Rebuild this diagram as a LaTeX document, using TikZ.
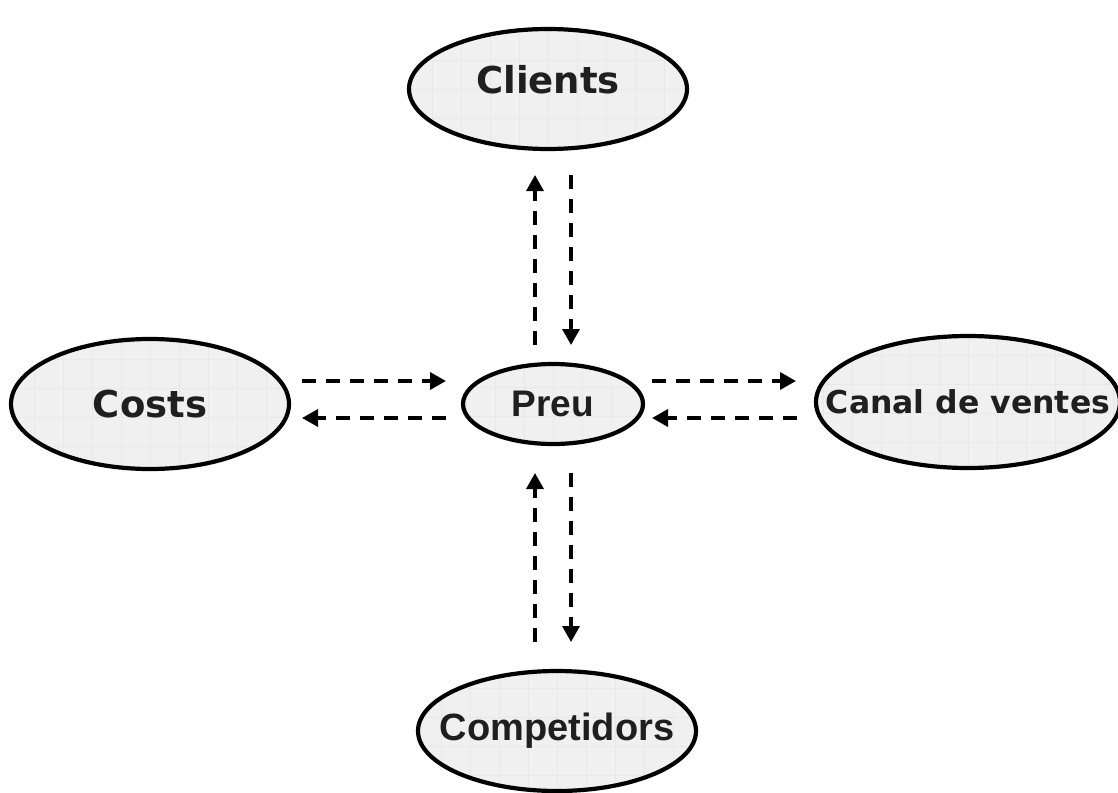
\documentclass[tikz,border=0pt]{standalone}
\usepackage{fontspec}
\newfontfamily\dvfont{DejaVu Sans}
\newfontfamily\arfont{Liberation Sans}
\usetikzlibrary{arrows.meta,shapes.geometric}
\begin{document}
\begin{tikzpicture}[x=1pt,y=-1pt,
  oval/.style={ellipse, draw=black, line width=4.2pt, fill=black!6, text=black!88,
    inner sep=0pt, font=\bfseries,
    path picture={\draw[black!9, line width=0.6pt]
      ([xshift=-400pt,yshift=-400pt]path picture bounding box.center) grid[step=29pt]
      ([xshift=400pt,yshift=400pt]path picture bounding box.center);}},
  flow/.style={line width=3.4pt, dash pattern=on 14pt off 10pt,
    -{Triangle[length=16pt,width=17pt]}}
]
\useasboundingbox (0,0) rectangle (1118,792);

\node[oval, minimum width=278pt, minimum height=120pt] (clients) at (548,89)
  {\makebox[0pt]{\raisebox{-4pt}[0pt][0pt]{\dvfont\fontsize{37}{40}\selectfont Clients}}};
\node[oval, minimum width=278pt, minimum height=130pt] (costs) at (150,404)
  {\makebox[0pt]{\dvfont\fontsize{37}{40}\selectfont Costs}};
\node[oval, minimum width=180pt, minimum height=80pt] (preu) at (553,404)
  {\makebox[0pt]{\arfont\fontsize{37}{40}\selectfont Preu}};
\node[oval, minimum width=304pt, minimum height=132pt] (canal) at (968,402)
  {\makebox[0pt]{\dvfont\fontsize{31.5}{36}\selectfont Canal de ventes}};
\node[oval, minimum width=278pt, minimum height=120pt] (compet) at (557,731)
  {\makebox[0pt]{\raisebox{5pt}{\arfont\fontsize{38}{40}\selectfont Competidors}}};

% vertical top
\coordinate (t1a) at (535,345); \coordinate (t1b) at (535,175);
\coordinate (t2a) at (571,175); \coordinate (t2b) at (571,345);
\draw[flow] (t1a) -- (t1b);
\draw[flow] (t2a) -- (t2b);
% vertical bottom
\coordinate (b1a) at (535,642); \coordinate (b1b) at (535,473);
\coordinate (b2a) at (571,473); \coordinate (b2b) at (571,642);
\draw[flow] (b1a) -- (b1b);
\draw[flow] (b2a) -- (b2b);
% left
\coordinate (l1a) at (302,381); \coordinate (l1b) at (446,381);
\coordinate (l2a) at (446,418); \coordinate (l2b) at (302,418);
\draw[flow] (l1a) -- (l1b);
\draw[flow] (l2a) -- (l2b);
% right
\coordinate (r1a) at (652,381); \coordinate (r1b) at (796,381);
\coordinate (r2a) at (797,418); \coordinate (r2b) at (652,418);
\draw[flow] (r1a) -- (r1b);
\draw[flow] (r2a) -- (r2b);
\end{tikzpicture}
\end{document}
